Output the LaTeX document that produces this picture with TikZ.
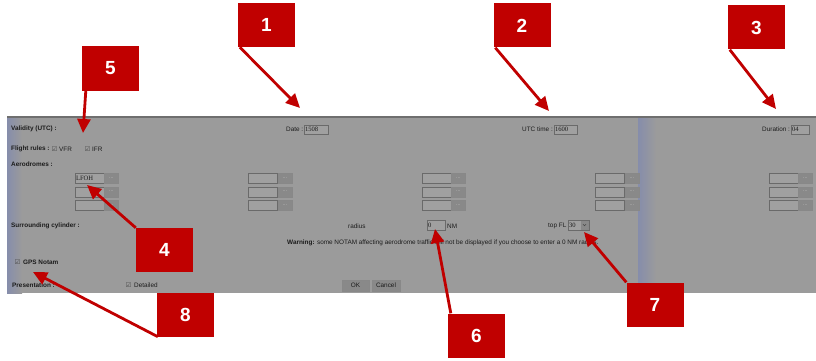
\documentclass[tikz,border=0pt]{standalone}
\usepackage{fontspec}
\setmainfont{Liberation Sans}
\newfontfamily\fieldfont{Liberation Serif}
\newfontfamily\symfont{DejaVu Sans}
\usetikzlibrary{positioning,arrows.meta,calc}
\definecolor{numred}{HTML}{C00000}
\definecolor{panelgrey}{HTML}{9B9B9B}
\definecolor{topline}{HTML}{6F6F6F}
\definecolor{fieldfill}{HTML}{A0A0A0}
\definecolor{fieldline}{HTML}{6A6A6A}
\definecolor{btnfill}{HTML}{898989}
\definecolor{txtgrey}{HTML}{1C1C1C}
\definecolor{stripeblue}{HTML}{868DAB}

\begin{document}
\begin{tikzpicture}[x=1pt,y=-1pt,
    numbox/.style={fill=numred,text=white,minimum width=57pt,minimum height=44pt,inner sep=0pt,
      font=\fontsize{19}{19}\selectfont\bfseries},
    redarrow/.style={draw=numred,line width=2.8pt,-{Triangle[length=14pt,width=13pt]}},
    lbl/.style={anchor=west,inner sep=0pt,text=txtgrey,font=\fontsize{6.4}{7}\selectfont},
    blbl/.style={lbl,font=\fontsize{6.4}{7}\selectfont\bfseries},
    val/.style={anchor=west,inner sep=0pt,text=txtgrey,font=\fieldfont\fontsize{6.6}{7}\selectfont},
    fieldbox/.style={draw=fieldline,fill=fieldfill,minimum width=29pt,minimum height=10pt,inner sep=0pt},
    valbox/.style={fieldbox,minimum height=9pt},
    dotbtn/.style={draw=fieldline!80,fill=btnfill,minimum width=14pt,minimum height=10pt,inner sep=0pt,
      text=white!75!black,font=\fontsize{5.5}{5}\selectfont},
    formbtn/.style={draw=fieldline!80,fill=btnfill,minimum height=11pt,inner sep=0pt,text=txtgrey,
      font=\fontsize{6.4}{7}\selectfont},
    chk/.style={inner sep=0pt,text=txtgrey!80,font=\symfont\fontsize{6.5}{7}\selectfont}]
  \useasboundingbox (0,0) rectangle (816,361);

  % screenshot panel
  \fill[panelgrey] (7,116) rectangle (816,293);
  \shade[left color=stripeblue,right color=panelgrey] (7,118) rectangle (22,293);
  \shade[left color=stripeblue,right color=panelgrey] (638,118) rectangle (656,293);
  \draw[topline,line width=2pt] (7,117) -- (816,117);

  % validity
  \node[blbl] (validity) at (11,129) {Validity (UTC) :};
  \node[lbl] (date) at (286,129) {Date :};
  \node[valbox,minimum width=24pt] (datebox) at (316,129.5) {};
  \node[val] (dateval) at ([xshift=1pt]datebox.west) {1508};
  \node[lbl] (utc) at (522,129) {UTC time :};
  \node[valbox,minimum width=23pt] (utcbox) at (565.5,129.5) {};
  \node[val] (utcval) at ([xshift=1pt]utcbox.west) {1600};
  \node[lbl] (duration) at (762,129) {Duration :};
  \node[valbox,minimum width=18pt] (durbox) at (800,129.5) {};
  \node[val] (durval) at ([xshift=1pt]durbox.west) {04};

  % flight rules
  \node[blbl] (rules) at (11,149) {Flight rules :};
  \node[chk] (cvfr) at (54.5,149) {☑};
  \node[lbl] (vfr) at (59,149) {VFR};
  \node[chk] (cifr) at (87.5,149) {☑};
  \node[lbl] (ifr) at (92,149) {IFR};

  % aerodromes
  \node[blbl] (aero) at (11,164) {Aerodromes :};
  \foreach \c in {0,...,4}
    \foreach \r in {0,1,2} {
      \node[fieldbox] (ad\c\r) at (89.5+173.5*\c,178+13.7*\r) {};
      \node[dotbtn,right=0pt of ad\c\r] (bt\c\r) {...};
    }
  \node[val] (lfoh) at ([xshift=1pt]ad00.west) {LFOH};

  % cylinder
  \node[blbl] (cyl) at (11,226) {Surrounding cylinder :};
  \node[lbl] (radius) at (348,226) {radius};
  \node[valbox,minimum width=18pt,minimum height=10pt] (radbox) at (436,225) {};
  \node[val] (radval) at ([xshift=1pt]radbox.west) {0};
  \node[lbl] (nm) at (447,226) {NM};
  \node[lbl] (topfl) at (548,226) {top FL};
  \node[valbox,minimum width=21pt,minimum height=10pt] (flbox) at (578.5,225) {};
  \node[val] (flval) at ([xshift=1pt]flbox.west) {30};
  \node[dotbtn,minimum width=7pt,minimum height=8pt,anchor=east] (flbtn) at ([xshift=-1pt]flbox.east) {};
  \draw[txtgrey!80,line width=0.5pt] ($(flbtn.center)+(-1.5,-0.8)$) -- ($(flbtn.center)+(0,0.8)$) -- ($(flbtn.center)+(1.5,-0.8)$);
  \node[lbl] (warn) at (287,243) {\textbf{Warning:} some NOTAM affecting aerodrome traffic will not be displayed if you choose to enter a 0 NM radius.};

  % gps notam and presentation
  \node[chk] (cgps) at (17.5,262) {☑};
  \node[blbl] (gps) at (23,262) {GPS Notam};
  \node[blbl] (pres) at (12,285) {Presentation :};
  \node[chk] (cdet) at (128.5,285) {☑};
  \node[lbl] (detailed) at (134,285) {Detailed};
  \node[formbtn,minimum width=27pt] (ok) at (355.5,285.5) {OK};
  \node[formbtn,minimum width=28pt] (cancel) at (386,285.5) {Cancel};

  % numbered callouts
  \node[numbox] (num1) at (266.5,25) {1};
  \node[numbox] (num2) at (522,25.5) {2};
  \node[numbox] (num3) at (756.5,27.5) {3};
  \node[numbox] (num4) at (164.5,250) {4};
  \node[numbox] (num5) at (110.5,68.5) {5};
  \node[numbox] (num6) at (476.5,335.5) {6};
  \node[numbox] (num7) at (655,304.5) {7};
  \node[numbox] (num8) at (185.5,314.5) {8};

  \coordinate (tip1) at (300,108);
  \coordinate (tip2) at (549,111);
  \coordinate (tip3) at (776,109);
  \coordinate (tip4) at (87,185);
  \coordinate (tip5) at (83,133);
  \coordinate (tip6) at (435,229);
  \coordinate (tip7) at (584,232);
  \coordinate (tip8) at (33,272);

  \draw[redarrow] ([xshift=2pt]num1.south west) -- (tip1);
  \draw[redarrow] ([xshift=2pt]num2.south west) -- (tip2);
  \draw[redarrow] ([xshift=2pt]num3.south west) -- (tip3);
  \draw[redarrow] (num4.north west) -- (tip4);
  \draw[redarrow] ([xshift=4pt]num5.south west) -- (tip5);
  \draw[redarrow] ([xshift=3pt]num6.north west) -- (tip6);
  \draw[redarrow] (num7.north west) -- (tip7);
  \draw[redarrow] ([xshift=1pt]num8.south west) -- (tip8);
\end{tikzpicture}
\end{document}
